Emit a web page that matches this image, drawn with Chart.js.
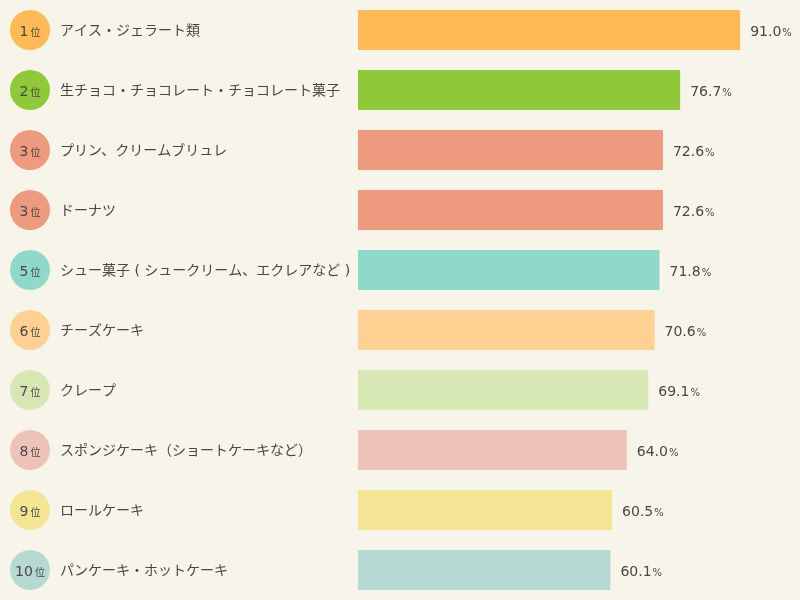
<!DOCTYPE html>
<html><head><meta charset="utf-8">
<script src="https://cdn.jsdelivr.net/npm/chart.js@4"></script>
<style>html,body{margin:0;padding:0;background:#f7f5e9;}#wrap{width:800px;height:600px;}</style>
</head><body><div id="wrap"><canvas id="c" width="800" height="600"></canvas></div>
<script>
const categories = ["アイス・ジェラート類","生チョコ・チョコレート・チョコレート菓子","プリン、クリームブリュレ","ドーナツ","シュー菓子 ( シュークリーム、エクレアなど )","チーズケーキ","クレープ","スポンジケーキ（ショートケーキなど）","ロールケーキ","パンケーキ・ホットケーキ"];
const ranks = [1,2,3,3,5,6,7,8,9,10];
const values = [91.0,76.7,72.6,72.6,71.8,70.6,69.1,64.0,60.5,60.1];
const colors = ["#ffb955","#8fc838","#ee9a7e","#ee9a7e","#8fd9cb","#fed193","#d7e7b3","#eec3b7","#f3e594","#b6d9d3"];
const FONT = "'DejaVu Sans','Noto Sans CJK JP',sans-serif";
const TEXT = "#474747";

const labelPlugin = {
  id:'labels',
  afterDatasetsDraw(chart){
    const ctx = chart.ctx, y = chart.scales.y;
    const meta = chart.getDatasetMeta(0);
    ctx.save();
    categories.forEach((cat,i)=>{
      const cy = y.getPixelForValue(i);
      ctx.beginPath(); ctx.arc(30,cy,20,0,Math.PI*2); ctx.fillStyle=colors[i]; ctx.fill();
      ctx.fillStyle=TEXT; ctx.textBaseline='alphabetic';
      ctx.font="14px "+FONT;
      const n = String(ranks[i]);
      const nw = ctx.measureText(n).width;
      ctx.font="10px "+FONT;
      const iw = ctx.measureText("位").width;
      const total = nw+2+iw;
      let sx = 30 - total/2;
      ctx.font="14px "+FONT; ctx.textAlign='left';
      ctx.fillText(n, sx, cy+6);
      ctx.font="10px "+FONT;
      ctx.fillText("位", sx+nw+2, cy+6);
      ctx.font="14px "+FONT; ctx.textBaseline='middle';
      ctx.fillText(cat, 60, cy+1);
      const bar = meta.data[i];
      const v = values[i].toFixed(1);
      ctx.textBaseline='alphabetic';
      ctx.font="14px "+FONT;
      const vx = bar.x + 10;
      ctx.fillText(v, vx, cy+6);
      const vw = ctx.measureText(v).width;
      ctx.font="10px "+FONT;
      ctx.fillText("%", vx+vw+1, cy+6);
    });
    ctx.restore();
  }
};

new Chart(document.getElementById('c'),{
  type:'bar',
  data:{labels:categories,datasets:[{data:values,backgroundColor:colors,borderWidth:0,barPercentage:40/60,categoryPercentage:1}]},
  options:{
    indexAxis:'y',responsive:false,animation:false,
    layout:{padding:{left:358,right:22,top:0,bottom:0}},
    plugins:{legend:{display:false},tooltip:{enabled:false}},
    scales:{
      x:{display:false,min:0,max:100},
      y:{display:false}
    }
  },
  plugins:[labelPlugin]
});
</script></body></html>
